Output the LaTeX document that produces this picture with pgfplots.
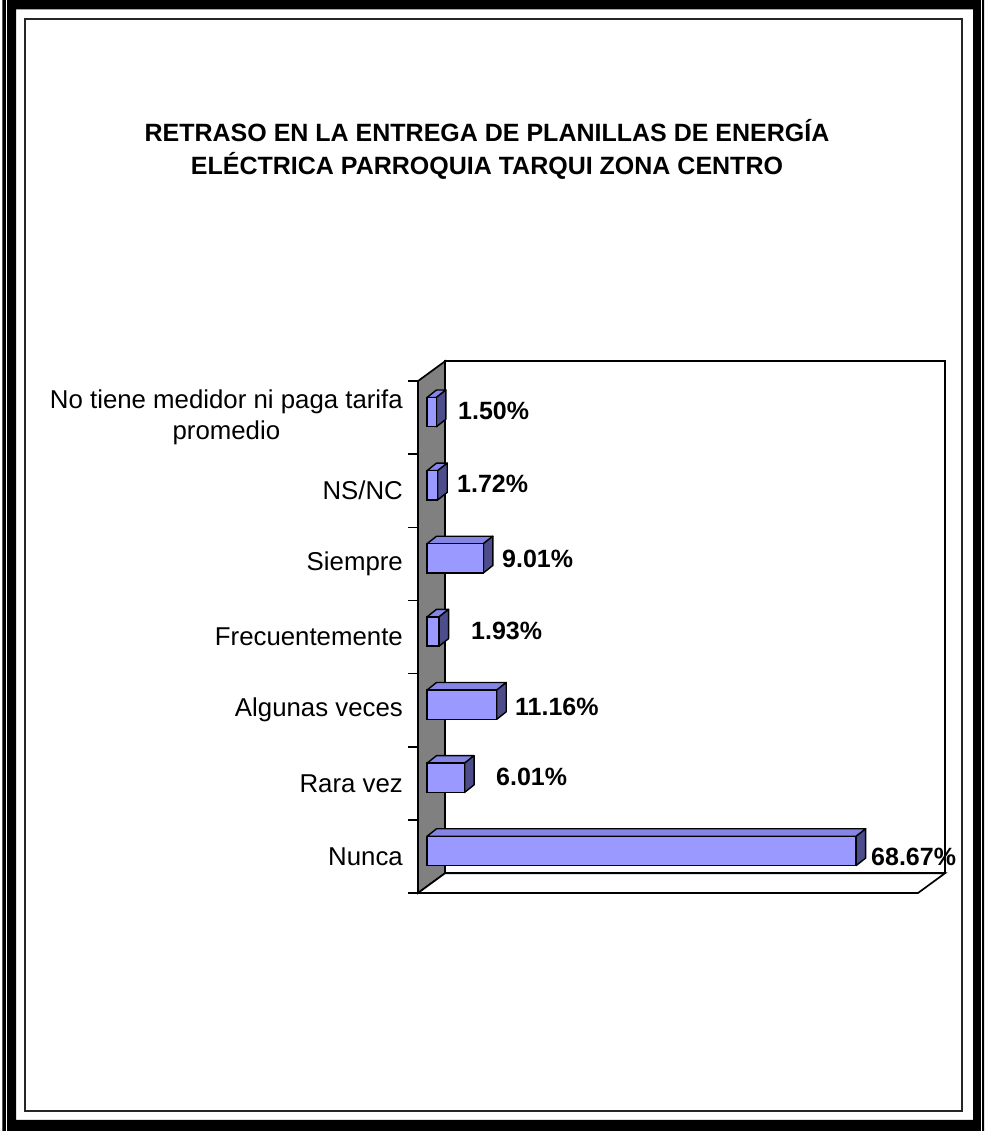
\documentclass[border=0pt]{standalone}
\usepackage{pgfplots}
\pgfplotsset{compat=1.18}
\usepackage{fontspec}
\setmainfont{Liberation Sans}
\definecolor{barfront}{HTML}{9999FF}
\definecolor{bartop}{HTML}{8585E6}
\definecolor{barside}{HTML}{4D4D8C}
\definecolor{wallgray}{HTML}{808080}
\newcommand{\chartfont}{\fontsize{25}{31}\selectfont}
\newcommand{\catfont}{\fontsize{25.8}{31}\selectfont}

\begin{document}
\begin{tikzpicture}[x=1pt,y=1pt]
\path[use as bounding box] (0pt,0pt) rectangle (984pt,1131pt);
\fill[white] (0pt,0pt) rectangle (984pt,1131pt);
% frame
\fill[black, even odd rule] (2.3pt,0pt) rectangle (984pt,1131pt) (16pt,11pt) rectangle (973pt,1121.7pt);
\fill[white] (5.7pt,0pt) rectangle (7.3pt,1131pt);
\fill[white] (981pt,0pt) rectangle (982.3pt,1131pt);
\draw[line width=2pt, black!85] (25pt,1111.5pt) rectangle (962pt,20pt);
% title
\node[anchor=base, font=\bfseries\chartfont, inner sep=0pt] at (487pt,989.3pt) {RETRASO EN LA ENTREGA DE PLANILLAS DE ENERGÍA};
\node[anchor=base, font=\bfseries\chartfont, inner sep=0pt] at (487pt,956pt) {ELÉCTRICA PARROQUIA TARQUI ZONA CENTRO};

\begin{axis}[
  at={(418pt,238pt)}, anchor=south west,
  scale only axis, width=527pt, height=531.7pt,
  xmin=-1.44, xmax=82.88, ymin=-0.5, ymax=6.77,
  clip=false,
  axis line style={draw=none},
  xtick=\empty,
  ytick={0,...,6},
  yticklabels={Nunca,Rara vez,Algunas veces,Frecuentemente,Siempre,NS/NC,{No tiene medidor ni paga tarifa\\promedio}},
  yticklabel style={font=\catfont, align=center, inner sep=0pt, xshift=-15pt},
  minor ytick={-0.5,0.5,...,6.5},
  major tick length=0pt, minor tick length=10pt,
  tick align=outside, ytick pos=left,
  tick style={black, line width=1.6pt},
]
% back wall
\addplot[fill=white, draw=black, line width=1.7pt] coordinates {(2.88,-0.23) (82.88,-0.23) (82.88,6.77) (2.88,6.77)} -- cycle;
% side wall
\addplot[fill=wallgray, draw=black, line width=1.7pt] coordinates {(-1.44,-0.5) (2.88,-0.23) (2.88,6.77) (-1.44,6.5)} -- cycle;
% floor
\addplot[fill=white, draw=black, line width=1.7pt] coordinates {(-1.44,-0.5) (78.56,-0.5) (82.88,-0.23) (2.88,-0.23)} -- cycle;
% 3D faces of bars
\foreach \c/\v in {0/68.67,1/6.01,2/11.16,3/1.93,4/9.01,5/1.72,6/1.50}{
  \pgfmathsetmacro{\ylo}{\c-0.125}
  \pgfmathsetmacro{\yhi}{\c+0.275}
  \pgfmathsetmacro{\ylob}{\c-0.022}
  \pgfmathsetmacro{\yhib}{\c+0.378}
  \pgfmathsetmacro{\vb}{\v+1.52}
  \edef\temp{\noexpand\addplot[fill=bartop,draw=black,line width=1.4pt,line join=round] coordinates {(0,\yhi) (\v,\yhi) (\vb,\yhib) (1.52,\yhib)} -- cycle;
   \noexpand\addplot[fill=barside,draw=black,line width=1.4pt,line join=round] coordinates {(\v,\ylo) (\vb,\ylob) (\vb,\yhib) (\v,\yhi)} -- cycle;}
  \temp
}
% front faces
\addplot[xbar, bar width=0.4, bar shift=0.075, fill=barfront, draw=black, line width=1.4pt]
  coordinates {(68.67,0) (6.01,1) (11.16,2) (1.93,3) (9.01,4) (1.72,5) (1.50,6)};
% value labels
\addplot[draw=none, mark=none, nodes near coords, point meta=explicit symbolic,
  nodes near coords align=horizontal,
  every node near coord/.append style={anchor=west, inner sep=0pt, font=\bfseries\chartfont}]
  coordinates {(71.04,0.0) [68.67\%] (11.04,1.09) [6.01\%] (14.08,2.05) [11.16\%] (7.04,3.08) [1.93\%] (12.0,4.07) [9.01\%] (4.80,5.09) [1.72\%] (4.96,6.09) [1.50\%]};
\end{axis}
\end{tikzpicture}
\end{document}
